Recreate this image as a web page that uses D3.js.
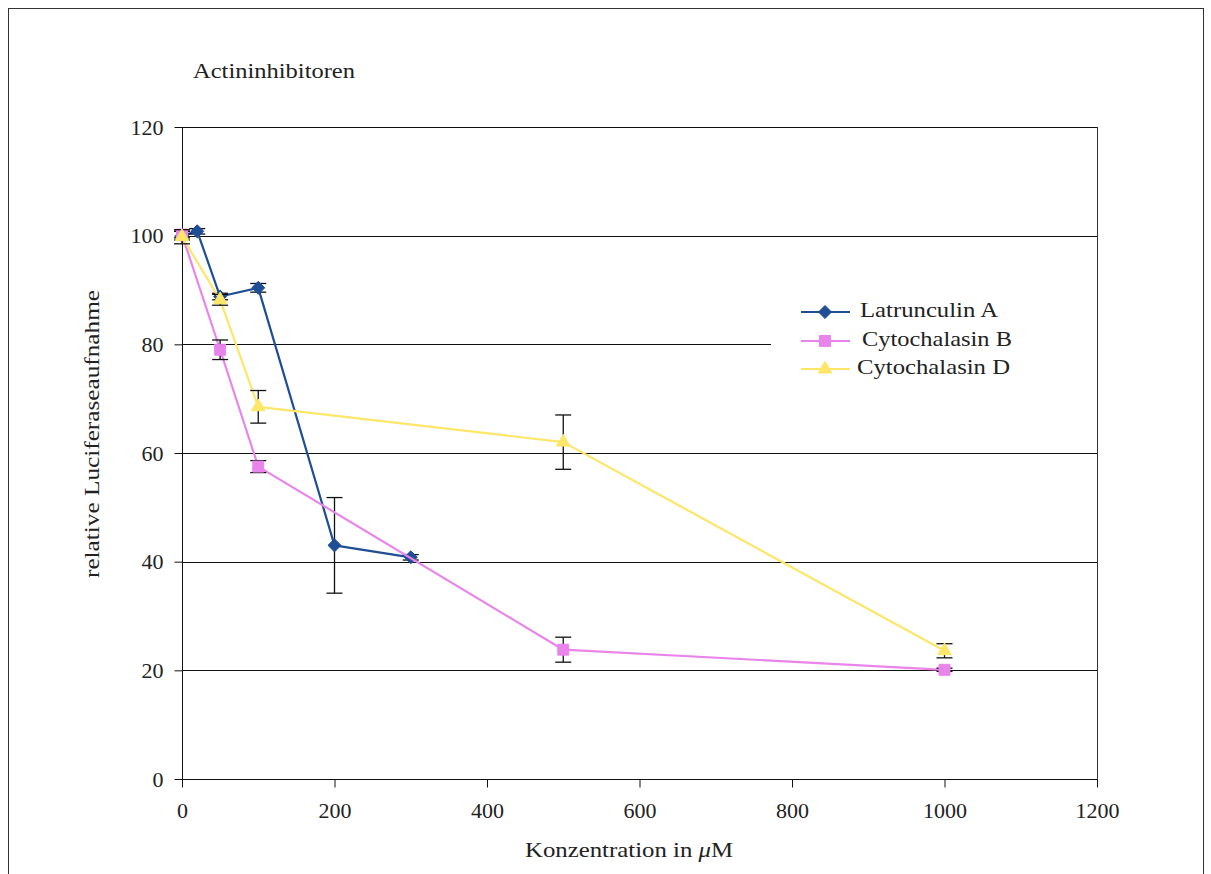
<!DOCTYPE html>
<html>
<head>
<meta charset="utf-8">
<script src="https://cdn.jsdelivr.net/npm/d3@7"></script>
<style>
  html, body { margin: 0; padding: 0; background: #fff; }
  svg { display: block; }
  text { font-family: "Liberation Serif", "Times New Roman", serif; fill: #222; }
</style>
</head>
<body>
<svg id="chart" width="1211" height="874"></svg>
<script>
// Relative luciferase uptake vs. inhibitor concentration (µM)
const seriesNames = ["Latrunculin A", "Cytochalasin B", "Cytochalasin D"];
const seriesColors = ["#1f4e96", "#e985ea", "#fde668"];
const seriesSymbols = ["diamond", "square", "triangle"];

const latrunculinX = [0, 20, 50, 100, 200, 300];
const latrunculinY = [100, 100.8, 88.8, 90.4, 43.0, 40.8];
const latrunculinErr = [0.8, 0.5, 0.6, 0.8, 8.8, 0.5];

const cytoBX = [0, 50, 100, 500, 1000];
const cytoBY = [100.2, 79.0, 57.5, 23.8, 20.1];
const cytoBErr = [0.6, 1.8, 1.1, 2.3, 0.3];

const cytoDX = [0, 50, 100, 500, 1000];
const cytoDY = [99.8, 88.2, 68.5, 62.0, 23.6];
const cytoDErr = [1.3, 1.0, 3.0, 5.0, 1.3];

const xTicks = [0, 200, 400, 600, 800, 1000, 1200];
const yTicks = [0, 20, 40, 60, 80, 100, 120];

const chartTitle = "Actininhibitoren";
const xTitle = "Konzentration in ";
const yTitle = "relative Luciferaseaufnahme";

const svg = d3.select("#chart");

// outer frame
svg.append("rect")
  .attr("x", 8.5).attr("y", 8.5).attr("width", 1195).attr("height", 880)
  .attr("fill", "none").attr("stroke", "#333").attr("stroke-width", 1);

const plot = { left: 182, right: 1097, top: 127, bottom: 779 };
const x = d3.scaleLinear().domain([0, 1200]).range([plot.left, plot.right]);
const y = d3.scaleLinear().domain([0, 120]).range([plot.bottom, plot.top]);

// horizontal gridlines
svg.append("g").selectAll("line").data(yTicks.filter(d => d > 0)).join("line")
  .attr("x1", plot.left).attr("x2", plot.right)
  .attr("y1", d => Math.round(y(d)) + 0.5).attr("y2", d => Math.round(y(d)) + 0.5)
  .attr("stroke", "#111").attr("stroke-width", 1);

// right border of plot area
svg.append("line")
  .attr("x1", plot.right + 0.5).attr("x2", plot.right + 0.5)
  .attr("y1", plot.top).attr("y2", plot.bottom + 8)
  .attr("stroke", "#333").attr("stroke-width", 1);

// axes
const fmt = d3.format("d");
const xAxis = d3.axisBottom(x).tickValues(xTicks).tickFormat(fmt).tickSize(8).tickSizeOuter(0).tickPadding(15);
const yAxis = d3.axisLeft(y).tickValues(yTicks).tickFormat(fmt).tickSize(8).tickSizeOuter(0).tickPadding(11);

const gx = svg.append("g").attr("transform", `translate(0,${Math.round(plot.bottom) + 0.5})`).call(xAxis);
const gy = svg.append("g").attr("transform", `translate(${plot.left + 0.5},0)`).call(yAxis);
[gx, gy].forEach(g => {
  g.selectAll("path, line").attr("stroke", "#111");
  g.selectAll("text").style("font-family", "'Liberation Serif', serif").style("font-size", "22px").attr("fill", "#333");
});
gx.select(".domain").attr("d", `M${plot.left},0H${plot.right}`);
gy.select(".domain").attr("d", `M0,${plot.top}V${plot.bottom + 8}`);

// legend background hides gridline behind it
const legend = { x: 771, y: 288 };
svg.append("rect")
  .attr("x", legend.x).attr("y", legend.y).attr("width", plot.right - legend.x).attr("height", 98)
  .attr("fill", "#fff");

// diamond drawn as a square turned by 45 degrees
const squareDiamond = {
  draw(context, size) {
    const r = Math.sqrt(size / 2);
    context.moveTo(0, -r);
    context.lineTo(r, 0);
    context.lineTo(0, r);
    context.lineTo(-r, 0);
    context.closePath();
  }
};
const symbolType = { diamond: squareDiamond, square: d3.symbolSquare, triangle: d3.symbolTriangle };
const symbolSize = { diamond: 85, square: 120, triangle: 80 };

const series = [
  { xs: latrunculinX, ys: latrunculinY, err: latrunculinErr },
  { xs: cytoBX, ys: cytoBY, err: cytoBErr },
  { xs: cytoDX, ys: cytoDY, err: cytoDErr }
];

const line = d3.line().x(d => x(d[0])).y(d => y(d[1]));

series.forEach((s, i) => {
  const pts = s.xs.map((v, j) => [v, s.ys[j], s.err[j]]);
  const g = svg.append("g");
  g.append("path").datum(pts).attr("d", line)
    .attr("fill", "none").attr("stroke", seriesColors[i]).attr("stroke-width", 2.2)
    .attr("stroke-linejoin", "round");

  // error bars
  const eb = g.append("g").attr("stroke", "#111").attr("stroke-width", 1.3);
  pts.forEach(p => {
    const cx = x(p[0]);
    const y0 = y(p[1] - p[2]), y1 = y(p[1] + p[2]);
    eb.append("line").attr("x1", cx).attr("x2", cx).attr("y1", y0).attr("y2", y1);
    eb.append("line").attr("x1", cx - 8).attr("x2", cx + 8).attr("y1", y0).attr("y2", y0);
    eb.append("line").attr("x1", cx - 8).attr("x2", cx + 8).attr("y1", y1).attr("y2", y1);
  });

  // markers
  const sym = d3.symbol().type(symbolType[seriesSymbols[i]]).size(symbolSize[seriesSymbols[i]]);
  g.selectAll("path.mk").data(pts).join("path").attr("class", "mk")
    .attr("d", sym)
    .attr("transform", d => `translate(${x(d[0])},${y(d[1])})`)
    .attr("fill", seriesColors[i])
    .attr("stroke", seriesColors[i]).attr("stroke-width", 1);
});

// legend entries
const legendLineY = [312, 341, 369];
const legendTextX = [860, 862, 857];
const legendTextLen = [138, 150, 153];
seriesNames.forEach((name, i) => {
  const ly = legendLineY[i];
  const g = svg.append("g");
  g.append("line").attr("x1", 801).attr("x2", 850).attr("y1", ly).attr("y2", ly)
    .attr("stroke", seriesColors[i]).attr("stroke-width", 2.2);
  g.append("path")
    .attr("d", d3.symbol().type(symbolType[seriesSymbols[i]]).size(symbolSize[seriesSymbols[i]]))
    .attr("transform", `translate(825,${ly})`)
    .attr("fill", seriesColors[i]).attr("stroke", seriesColors[i]);
  g.append("text").attr("x", legendTextX[i]).attr("y", ly + 5)
    .attr("textLength", legendTextLen[i]).attr("lengthAdjust", "spacingAndGlyphs")
    .style("font-size", "22px").text(name);
});

// titles
svg.append("text").attr("x", 193).attr("y", 78)
  .attr("textLength", 162).attr("lengthAdjust", "spacingAndGlyphs")
  .style("font-size", "22px").text(chartTitle);

const xt = svg.append("text").attr("x", 525).attr("y", 857)
  .attr("textLength", 208).attr("lengthAdjust", "spacingAndGlyphs")
  .style("font-size", "22px");
xt.append("tspan").text(xTitle);
xt.append("tspan").style("font-style", "italic").text("\u03bc");
xt.append("tspan").text("M");

svg.append("text")
  .attr("transform", "translate(99,434) rotate(-90)")
  .attr("text-anchor", "middle")
  .attr("textLength", 288).attr("lengthAdjust", "spacingAndGlyphs")
  .style("font-size", "21px")
  .text(yTitle);
</script>
</body>
</html>
